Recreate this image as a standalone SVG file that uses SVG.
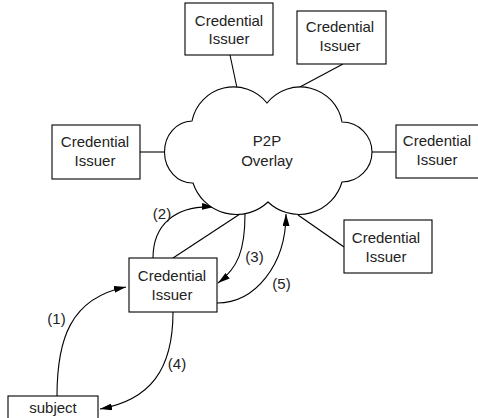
<svg xmlns="http://www.w3.org/2000/svg" width="478" height="418" viewBox="0 0 478 418">
<defs>
<marker id="ah" markerUnits="userSpaceOnUse" markerWidth="12" markerHeight="7" refX="12" refY="3.5" orient="auto">
<path d="M0,0 L12,3.5 L0,7 z" fill="#000"/>
</marker>
<style>
.box{fill:#fff;stroke:#000;stroke-width:1.1}
.ln{fill:none;stroke:#000;stroke-width:1.1}
.arr{fill:none;stroke:#000;stroke-width:1.1;marker-end:url(#ah)}
text{font-family:"Liberation Sans",Arial,sans-serif;font-size:15px;fill:#222;text-anchor:middle}
</style>
</defs>
<rect width="478" height="418" fill="#fff"/>
<g id="connectors">
<line class="ln" x1="230" y1="55" x2="237" y2="88"/>
<line class="ln" x1="343" y1="64" x2="298" y2="88"/>
<line class="ln" x1="140" y1="152" x2="164" y2="152"/>
<line class="ln" x1="372" y1="152" x2="396" y2="152"/>
<line class="ln" x1="298" y1="215" x2="344" y2="247"/>
<line class="ln" x1="173" y1="258" x2="240" y2="214"/>
<path class="arr" d="M57,396 C57,340 70,298 126,287"/>
<path class="arr" d="M153,258 C153,225 175,205 214,207"/>
<path class="arr" d="M245,214 C245,250 238,268 218,283"/>
<path class="arr" d="M173,312 C173,370 150,400 100,409"/>
<path class="arr" d="M217,303 C255,303 286,265 286,214"/>
<text x="56.5" y="324">(1)</text>
<text x="162" y="219">(2)</text>
<text x="254.5" y="262">(3)</text>
<text x="177" y="369">(4)</text>
<text x="281.5" y="289">(5)</text>
</g>
<g id="overlay">
<path d="M192,121 A42.5,42.5 0 0 1 267,103 A42.4,42.4 0 0 1 342,122 A30,30 0 0 1 342,182 A44.8,44.8 0 0 1 268,202 A45.8,45.8 0 0 1 193,183 A28,31 0 0 1 192,121 Z" fill="#fff" stroke="#000" stroke-width="1.1"/>
<text x="267" y="146">P2P</text>
<text x="267" y="166">Overlay</text>
</g>
<g id="issuer-top1">
<rect class="box" x="185" y="3" width="88" height="52"/>
<text x="229" y="26">Credential</text>
<text x="229" y="44">Issuer</text>
</g>
<g id="issuer-top2">
<rect class="box" x="297" y="11" width="89" height="53"/>
<text x="340" y="32">Credential</text>
<text x="340" y="51">Issuer</text>
</g>
<g id="issuer-left">
<rect class="box" x="52" y="125" width="88" height="54"/>
<text x="95" y="147">Credential</text>
<text x="95" y="166">Issuer</text>
</g>
<g id="issuer-right">
<rect class="box" x="396" y="125" width="88" height="53"/>
<text x="437" y="146">Credential</text>
<text x="437" y="165">Issuer</text>
</g>
<g id="issuer-lower-right">
<rect class="box" x="344" y="220" width="88" height="53"/>
<text x="386" y="243">Credential</text>
<text x="386" y="262">Issuer</text>
</g>
<g id="issuer-center">
<rect class="box" x="129" y="258" width="88" height="54"/>
<text x="172" y="281">Credential</text>
<text x="172" y="300">Issuer</text>
</g>
<g id="subject">
<rect class="box" x="8" y="396" width="90" height="30"/>
<text x="53" y="413">subject</text>
</g>
</svg>
